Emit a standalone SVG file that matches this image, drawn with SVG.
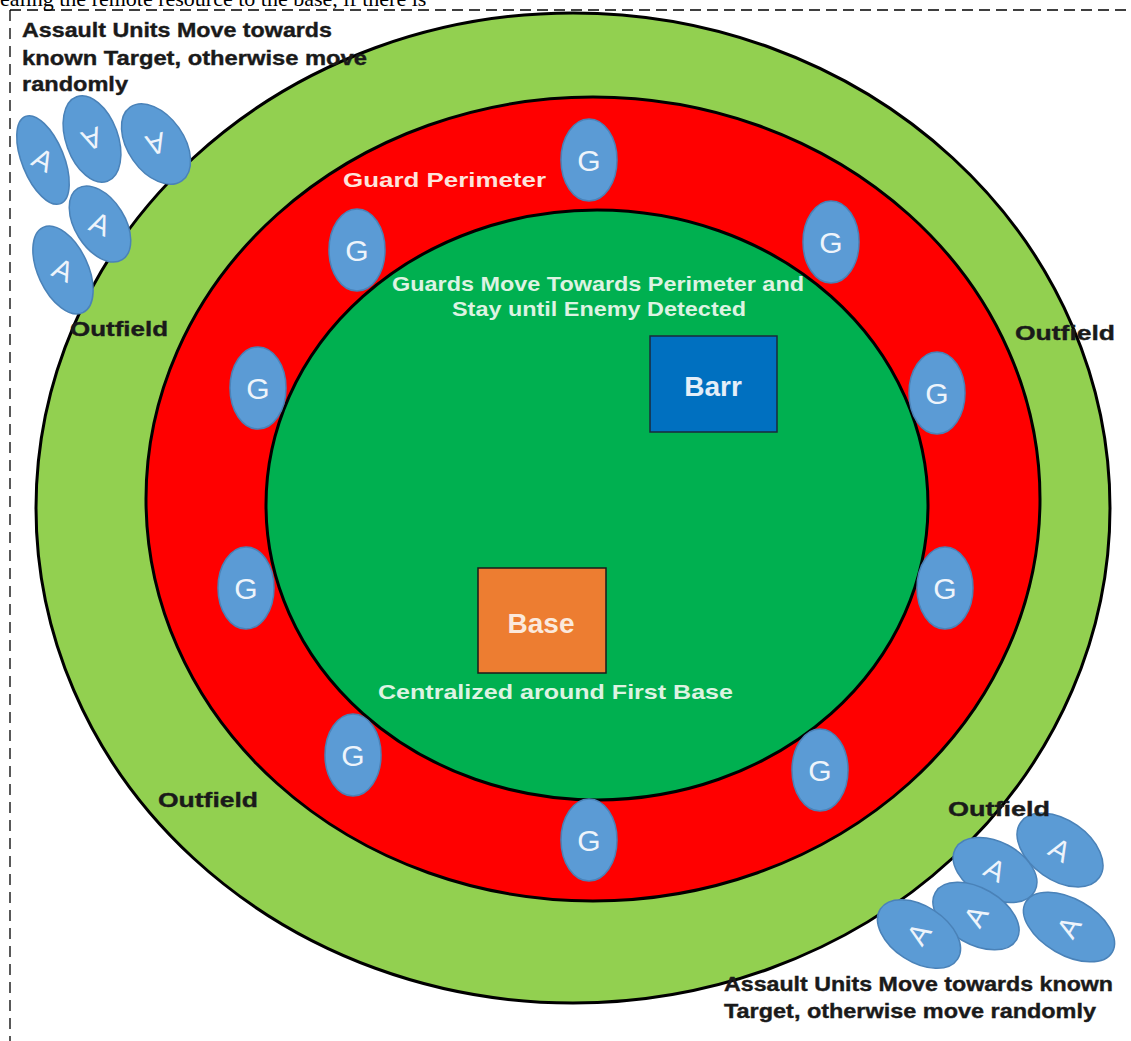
<svg xmlns="http://www.w3.org/2000/svg" width="1131" height="1041" viewBox="0 0 1131 1041">
<style>
.lbl{font-family:"Liberation Sans",Arial,sans-serif;font-weight:bold;font-size:21px;fill:#1a1a1a;stroke:#1a1a1a;stroke-width:0.4}
.ring{stroke:#000;stroke-width:3}
.g{fill:#5B9BD5;stroke:#4a82b8;stroke-width:1.5}
.gt{font-family:"Liberation Sans",Arial,sans-serif;font-size:30px;fill:#EEF4FB;text-anchor:middle}
.at{font-family:"Liberation Sans",Arial,sans-serif;font-size:29px;fill:#EEF4FB;text-anchor:middle}
.wt{font-family:"Liberation Sans",Arial,sans-serif;font-weight:bold;font-size:21px}
</style>
<rect width="1131" height="1041" fill="#fff"/>
<text x="0" y="6" font-family="Liberation Serif,serif" font-size="22" fill="#000">ealing the remote resource to the base, if there is</text>
<g id="border" fill="none" stroke="#000" stroke-width="1.3">
<line x1="10" y1="10" x2="1131" y2="10" stroke-dasharray="11 6"/>
<line x1="10" y1="10" x2="10" y2="1041" stroke-dasharray="11 7"/>
</g>
<g id="outfield"><ellipse class="ring" cx="573" cy="508" rx="537" ry="495" fill="#92D050"/></g>
<g id="perimeter"><ellipse class="ring" cx="593" cy="499" rx="447" ry="402" fill="#FF0000"/></g>
<g id="inner"><ellipse class="ring" cx="597" cy="505" rx="331" ry="295" fill="#00B050"/></g>
<g id="barr"><rect x="650" y="336" width="127" height="96" fill="#0070C0" stroke="#1a2a3a" stroke-width="1.5"/><text x="713" y="396" text-anchor="middle" font-family="Liberation Sans,Arial,sans-serif" font-weight="bold" font-size="28" fill="#E4EEF8">Barr</text></g>
<g id="base"><rect x="478" y="568" width="128" height="105" fill="#ED7D31" stroke="#1a1a1a" stroke-width="1.5"/><text x="541" y="633" text-anchor="middle" font-family="Liberation Sans,Arial,sans-serif" font-weight="bold" font-size="28" fill="#FBE9DC">Base</text></g>
<g id="guards">
<g><ellipse class="g" cx="589" cy="160" rx="28" ry="41"/><text class="gt" x="589" y="171">G</text></g>
<g><ellipse class="g" cx="357" cy="250" rx="28" ry="41"/><text class="gt" x="357" y="261">G</text></g>
<g><ellipse class="g" cx="831" cy="242" rx="28" ry="41"/><text class="gt" x="831" y="253">G</text></g>
<g><ellipse class="g" cx="258" cy="388" rx="28" ry="41"/><text class="gt" x="258" y="399">G</text></g>
<g><ellipse class="g" cx="937" cy="393" rx="28" ry="41"/><text class="gt" x="937" y="404">G</text></g>
<g><ellipse class="g" cx="246" cy="588" rx="28" ry="41"/><text class="gt" x="246" y="599">G</text></g>
<g><ellipse class="g" cx="945" cy="588" rx="28" ry="41"/><text class="gt" x="945" y="599">G</text></g>
<g><ellipse class="g" cx="353" cy="755" rx="28" ry="41"/><text class="gt" x="353" y="766">G</text></g>
<g><ellipse class="g" cx="820" cy="770" rx="28" ry="41"/><text class="gt" x="820" y="781">G</text></g>
<g><ellipse class="g" cx="589" cy="840" rx="28" ry="41"/><text class="gt" x="589" y="851">G</text></g>
</g>
<g id="assault-nw">
<g transform="translate(43,160) rotate(-22)"><ellipse class="g" rx="21" ry="47"/><text class="at" y="10" transform="rotate(50)">A</text></g>
<g transform="translate(92,139) rotate(-20)"><ellipse class="g" rx="26" ry="45"/><text class="at" y="10" transform="rotate(180)">A</text></g>
<g transform="translate(156,144) rotate(-35)"><ellipse class="g" rx="28" ry="45"/><text class="at" y="10" transform="rotate(200)">A</text></g>
<g transform="translate(100,224) rotate(-32)"><ellipse class="g" rx="25" ry="42"/><text class="at" y="10" transform="rotate(55)">A</text></g>
<g transform="translate(63,270) rotate(-25)"><ellipse class="g" rx="25" ry="47"/><text class="at" y="10" transform="rotate(50)">A</text></g>
</g>
<g id="assault-se">
<g transform="translate(1060,850) rotate(35)"><ellipse class="g" rx="48" ry="30"/><text class="at" y="10" transform="rotate(-5)">A</text></g>
<g transform="translate(995,870) rotate(28)"><ellipse class="g" rx="45" ry="28"/><text class="at" y="10" transform="rotate(0)">A</text></g>
<g transform="translate(976,916) rotate(30)"><ellipse class="g" rx="47" ry="28"/><text class="at" y="10" transform="rotate(-90)">A</text></g>
<g transform="translate(919,934) rotate(33)"><ellipse class="g" rx="46" ry="28"/><text class="at" y="10" transform="rotate(-90)">A</text></g>
<g transform="translate(1069,927) rotate(30)"><ellipse class="g" rx="50" ry="28"/><text class="at" y="10" transform="rotate(-90)">A</text></g>
</g>
<g id="labels">
<text class="lbl" x="22" y="37" textLength="310" lengthAdjust="spacingAndGlyphs">Assault Units Move towards</text>
<text class="lbl" x="22" y="65" textLength="345" lengthAdjust="spacingAndGlyphs">known Target, otherwise move</text>
<text class="lbl" x="22" y="91" textLength="106" lengthAdjust="spacingAndGlyphs">randomly</text>
<text class="lbl" x="70" y="336" textLength="98" lengthAdjust="spacingAndGlyphs">Outfield</text>
<text class="lbl" x="1015" y="340" textLength="100" lengthAdjust="spacingAndGlyphs">Outfield</text>
<text class="lbl" x="158" y="807" textLength="100" lengthAdjust="spacingAndGlyphs">Outfield</text>
<text class="lbl" x="948" y="816" textLength="102" lengthAdjust="spacingAndGlyphs">Outfield</text>
<text class="wt" x="343" y="187" fill="#FDE4DC" textLength="203" lengthAdjust="spacingAndGlyphs">Guard Perimeter</text>
<text class="wt" x="392" y="291" fill="#DDF3E2" textLength="412" lengthAdjust="spacingAndGlyphs">Guards Move Towards Perimeter and</text>
<text class="wt" x="452" y="316" fill="#DDF3E2" textLength="294" lengthAdjust="spacingAndGlyphs">Stay until Enemy Detected</text>
<text class="wt" x="378" y="699" fill="#DDF3E2" textLength="355" lengthAdjust="spacingAndGlyphs">Centralized around First Base</text>
<text class="lbl" x="724" y="991" textLength="389" lengthAdjust="spacingAndGlyphs">Assault Units Move towards  known</text>
<text class="lbl" x="724" y="1018" textLength="372" lengthAdjust="spacingAndGlyphs">Target, otherwise move randomly</text>
</g>
</svg>
